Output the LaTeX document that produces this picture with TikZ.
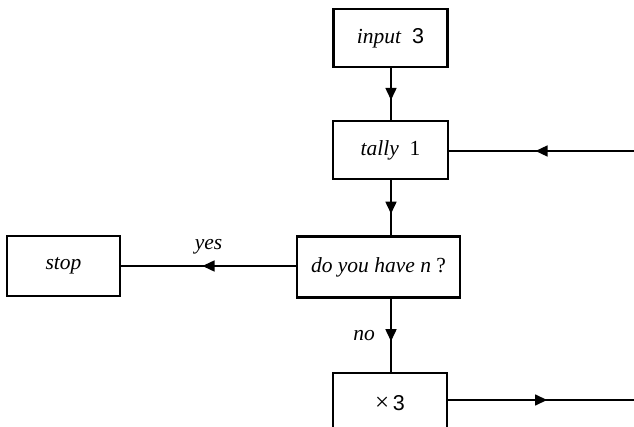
\documentclass[tikz,border=0pt]{standalone}
\usepackage{fontspec}
\setmainfont{Liberation Serif}
\newfontfamily\digitfont{Liberation Sans}
\usetikzlibrary{arrows.meta,decorations.markings}
\begin{document}
\begin{tikzpicture}[x=1pt,y=-1pt,
  box/.style={draw,line width=2.2pt,rectangle,inner sep=0pt,
    font=\fontsize{21.5}{25}\selectfont},
  flow/.style={line width=1.5pt,postaction={decorate},
    decoration={markings,mark=at position .5 with
      {\arrow[xshift=6pt]{Triangle[length=12pt,width=11pt]}}}},
  lbl/.style={font=\fontsize{21.5}{25}\selectfont\itshape}]
\useasboundingbox (0,0) rectangle (634,427);
% boxes of the flow chart
\node[box,minimum width=114pt,minimum height=58pt] (input) at (390.5,38)
  {\textit{input}\enspace{\digitfont 3}};
\node[box,minimum width=115pt,minimum height=58pt] (tally) at (390.5,150)
  {\textit{tally}\enspace 1};
\node[box,minimum width=163pt,minimum height=61pt] (ask) at (378.5,267)
  {\textit{do you have n} ?};
\node[box,minimum width=113pt,minimum height=60pt] (stop) at (63.5,266)
  {\textit{stop}};
\node[box,minimum width=114pt,minimum height=60pt] (times) at (390,403)
  {{\fontsize{25}{25}\selectfont ×}\,{\digitfont 3}};
% loose ends at the right margin
\coordinate (loopin) at (634,151);
\coordinate (loopout) at (634,400);
% connectors
\draw[flow] (input.south -| 391,0) -- (tally.north -| 391,0);
\draw[flow] (tally.south -| 391,0) -- (ask.north -| 391,0);
\draw[flow] (loopin) -- (tally.east |- loopin);
\draw[flow] (ask.west |- stop.east) -- node[lbl,above=8pt] {yes} (stop.east);
\draw[flow] (ask.south -| 391,0) -- node[lbl,left=12pt] {no} (times.north -| 391,0);
\draw[flow] (times.east |- loopout) -- (loopout);
\end{tikzpicture}
\end{document}
